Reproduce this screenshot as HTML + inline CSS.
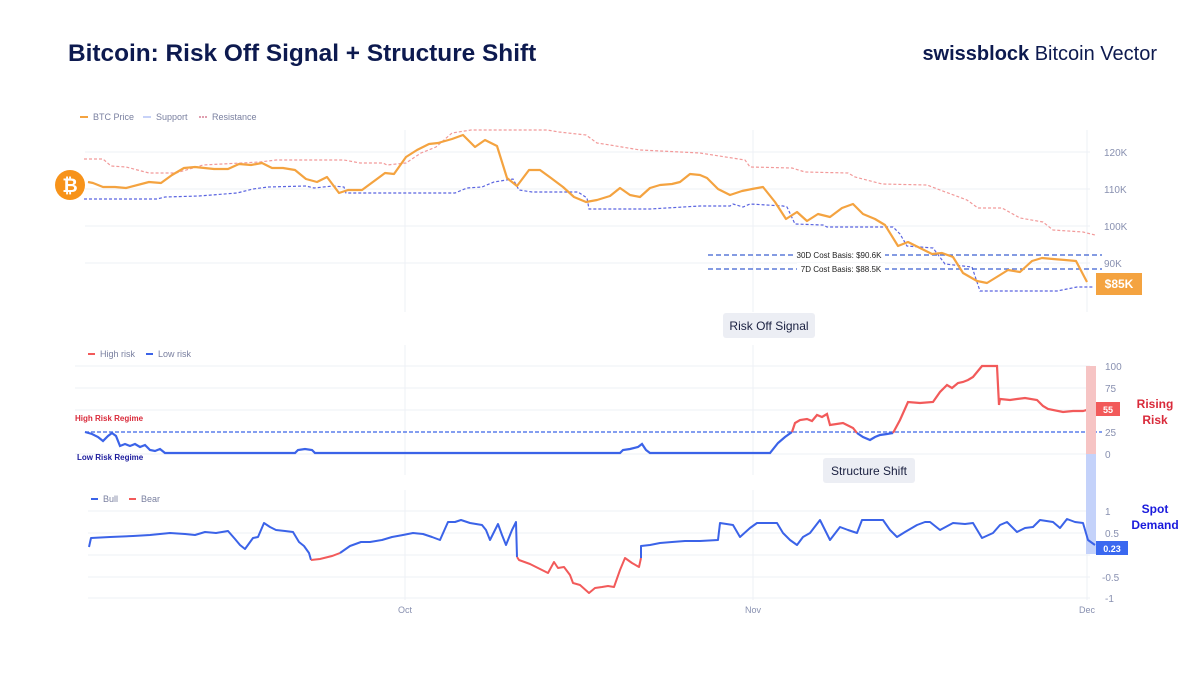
<!DOCTYPE html>
<html><head><meta charset="utf-8"><style>
body{margin:0;background:#fff;}
svg{display:block;font-family:"Liberation Sans",sans-serif;}
</style></head><body>
<svg width="1200" height="675" viewBox="0 0 1200 675" xmlns="http://www.w3.org/2000/svg">
<rect width="1200" height="675" fill="#fff"/>
<text x="68" y="61" font-size="24.4" font-weight="bold" fill="#0d1a4f">Bitcoin: Risk Off Signal + Structure Shift</text>
<text x="1157" y="60" font-size="20" text-anchor="end" fill="#0d1a4f"><tspan font-weight="bold">swissblock</tspan> Bitcoin Vector</text>

<!-- grids -->
<g stroke="#eef0f5" stroke-width="1">
<line x1="85" y1="152" x2="1090" y2="152"/><line x1="85" y1="189" x2="1090" y2="189"/><line x1="85" y1="226" x2="1090" y2="226"/><line x1="85" y1="263" x2="1090" y2="263"/>
<line x1="405" y1="130" x2="405" y2="312"/><line x1="1087" y1="130" x2="1087" y2="312"/><line x1="753" y1="130" x2="753" y2="312"/>
<line x1="75" y1="366" x2="1090" y2="366"/><line x1="75" y1="388" x2="1090" y2="388"/><line x1="75" y1="410" x2="1090" y2="410"/><line x1="75" y1="454" x2="1090" y2="454"/>
<line x1="405" y1="345" x2="405" y2="475"/><line x1="753" y1="345" x2="753" y2="475"/>
<line x1="88" y1="511" x2="1090" y2="511"/><line x1="88" y1="533" x2="1090" y2="533"/><line x1="88" y1="555" x2="1090" y2="555"/><line x1="88" y1="577" x2="1090" y2="577"/><line x1="88" y1="598" x2="1090" y2="598"/>
<line x1="405" y1="490" x2="405" y2="600"/><line x1="753" y1="490" x2="753" y2="600"/><line x1="1087" y1="490" x2="1087" y2="600"/>
</g>

<!-- top legend -->
<g font-size="9" fill="#7a80a0">
<line x1="80" y1="117" x2="88" y2="117" stroke="#f4a340" stroke-width="2"/><text x="93" y="120">BTC Price</text>
<line x1="143" y1="117" x2="151" y2="117" stroke="#8fa4f0" stroke-width="1"/><text x="156" y="120">Support</text>
<line x1="199" y1="117" x2="207" y2="117" stroke="#c04060" stroke-width="1" stroke-dasharray="2,1"/><text x="212" y="120">Resistance</text>
</g>
<circle cx="70" cy="185" r="15" fill="#f7931a"/>
<text x="70" y="192" font-size="19" font-weight="bold" fill="#fff" text-anchor="middle" font-family="DejaVu Sans,sans-serif">₿</text>

<!-- resistance -->
<polyline fill="none" stroke="#f29a9a" stroke-width="1.2" stroke-dasharray="3,2" points="84,159 103,159 111,166 126,167 149,173 176,173 203,165 260,162 276,160 344,160 360,163 383,163 387,165 406,163 421,153 436,147 452,133 471,130 547,130 559,132 586,135 597,143 610,145 640,150 700,153 745,160 750,167 792,168 805,172 848,173 855,177 882,184 927,185 940,190 967,200 978,208 1002,208 1020,218 1043,222 1053,230 1083,232 1095,235"/>
<!-- support -->
<polyline fill="none" stroke="#5a64e0" stroke-width="1.2" stroke-dasharray="3,2" points="84,199 157,199 165,197 199,196 237,193 253,189 268,187 306,186 314,188 333,186 344,187 346,193 455,193 467,188 482,187 494,182 513,179 519,190 532,192 578,192 587,198 589,209 650,209 700,206 730,206 733,204 743,207 750,204 783,206 787,207 795,224 823,225 827,227 893,227 900,234 907,246 933,248 945,264 972,267 980,291 1057,291 1077,287 1093,287"/>
<!-- cost basis -->
<g stroke="#3b5fd0" stroke-width="1.3" stroke-dasharray="5,3">
<line x1="708" y1="255" x2="1102" y2="255"/><line x1="708" y1="269" x2="1102" y2="269"/></g>
<rect x="793" y="249" width="92" height="12" fill="#fff"/><rect x="797" y="263" width="88" height="12" fill="#fff"/>
<text x="839" y="258" font-size="8" fill="#222" text-anchor="middle">30D Cost Basis: $90.6K</text>
<text x="841" y="272" font-size="8" fill="#222" text-anchor="middle">7D Cost Basis: $88.5K</text>
<!-- price -->
<polyline fill="none" stroke="#f4a340" stroke-width="2.2" stroke-linejoin="round" points="88,182 93,183 103,187 115,187 126,188 149,182 161,183 172,175 184,168 195,167 214,169 228,169 239,164 251,165 262,163 272,168 283,168 295,170 306,179 317,182 327,177 339,193 348,190 362,190 385,173 394,174 406,157 417,150 429,144 438,143 452,139 463,135 475,147 485,140 497,146 507,178 517,186 529,170 540,170 551,178 563,187 574,197 586,202 597,200 610,196 620,188 630,195 640,197 650,188 660,185 672,184 680,182 690,174 700,175 707,178 718,189 730,195 742,191 752,189 763,187 775,202 786,219 797,212 807,221 818,214 830,217 842,208 853,204 863,214 875,219 885,225 898,246 908,242 920,248 932,254 942,253 953,257 963,273 977,281 987,283 1000,275 1008,270 1020,272 1032,261 1042,258 1053,259 1065,260 1076,261 1087,282"/>
<g font-size="10" fill="#8890b0"><text x="1104" y="156">120K</text><text x="1104" y="193">110K</text><text x="1104" y="230">100K</text><text x="1104" y="267">90K</text></g>
<rect x="1096" y="273" width="46" height="22" fill="#f4a340"/>
<text x="1119" y="288" font-size="12" font-weight="bold" fill="#fff" text-anchor="middle">$85K</text>

<rect x="723" y="313" width="92" height="25" rx="3" fill="#eceef4"/>
<text x="769" y="330" font-size="12" fill="#1a2040" text-anchor="middle">Risk Off Signal</text>

<!-- middle -->
<g font-size="9" fill="#7a80a0">
<line x1="88" y1="354" x2="95" y2="354" stroke="#f25a5a" stroke-width="2"/><text x="100" y="357">High risk</text>
<line x1="146" y1="354" x2="153" y2="354" stroke="#3b63e8" stroke-width="2"/><text x="158" y="357">Low risk</text>
</g>
<text x="75" y="421" font-size="8" font-weight="bold" fill="#d92a3a">High Risk Regime</text>
<text x="77" y="460" font-size="8" font-weight="bold" fill="#1a1a9c">Low Risk Regime</text>
<line x1="85" y1="432" x2="1102" y2="432" stroke="#3b63e8" stroke-width="1.2" stroke-dasharray="4,2"/>
<polyline fill="none" stroke="#3b63e8" stroke-width="2.2" points="85,432 92,434 98,437 103,441 108,436 112,433 116,436 120,446 125,444 130,446 135,444 140,447 145,445 150,450 155,451 160,449 165,453 170,453 295,453 298,450 305,449 312,450 315,453 620,453 623,450 630,449 638,447 642,444 646,450 650,453 770,453 778,443 785,437 792,432"/>
<polyline fill="none" stroke="#f25a5a" stroke-width="2.2" points="792,432 795,423 800,420 807,419 812,421 817,415 822,417 827,414 830,425 843,423 853,428 857,433"/>
<polyline fill="none" stroke="#3b63e8" stroke-width="2.2" points="857,433 863,437 870,440 875,437 880,435 887,434 893,433"/>
<polyline fill="none" stroke="#f25a5a" stroke-width="2.2" points="893,433 900,420 908,402 920,403 933,402 940,392 947,385 952,388 958,383 963,382 968,380 973,377 982,366 997,366 999,405 1000,399 1010,400 1017,399 1025,398 1037,400 1043,406 1048,409 1063,412 1073,411 1083,411 1090,409 1095,406"/>
<rect x="1086" y="366" width="10" height="88" fill="#f6c4c4"/>
<rect x="1086" y="454" width="10" height="100" fill="#c4d2fa"/>
<g font-size="10" fill="#8890b0"><text x="1105" y="370">100</text><text x="1105" y="392">75</text><text x="1105" y="436">25</text><text x="1105" y="458">0</text></g>
<rect x="1096" y="402" width="24" height="14" fill="#f25a5a"/>
<text x="1108" y="413" font-size="9" font-weight="bold" fill="#fff" text-anchor="middle">55</text>
<text x="1155" y="408" font-size="12" font-weight="bold" fill="#d92a3a" text-anchor="middle">Rising</text>
<text x="1155" y="424" font-size="12" font-weight="bold" fill="#d92a3a" text-anchor="middle">Risk</text>
<text x="1155" y="513" font-size="12" font-weight="bold" fill="#1a1adc" text-anchor="middle">Spot</text>
<text x="1155" y="529" font-size="12" font-weight="bold" fill="#1a1adc" text-anchor="middle">Demand</text>

<rect x="823" y="458" width="92" height="25" rx="3" fill="#eceef4"/>
<text x="869" y="475" font-size="12" fill="#1a2040" text-anchor="middle">Structure Shift</text>

<!-- bottom -->
<g font-size="9" fill="#7a80a0">
<line x1="91" y1="499" x2="98" y2="499" stroke="#3b63e8" stroke-width="2"/><text x="103" y="502">Bull</text>
<line x1="129" y1="499" x2="136" y2="499" stroke="#f25a5a" stroke-width="2"/><text x="141" y="502">Bear</text>
</g>
<polyline fill="none" stroke="#3b63e8" stroke-width="2" stroke-linejoin="round" points="89,547 91,538 110,537 133,536 150,535 170,533 185,534 195,535 205,532 216,533 228,531 235,539 240,545 245,549 253,538 258,537 264,523 270,527 276,530 285,531 293,532 299,542 304,546 309,553 311,560"/>
<polyline fill="none" stroke="#f25a5a" stroke-width="2" points="311,560 320,559 332,556 340,553"/>
<polyline fill="none" stroke="#3b63e8" stroke-width="2" stroke-linejoin="round" points="340,553 350,546 361,542 370,542 382,540 392,537 403,535 413,533 423,534 432,537 440,540 448,522 455,522 461,520 470,523 482,525 486,530 490,540 498,524 502,535 506,545 512,530 516,522 517,557"/>
<polyline fill="none" stroke="#f25a5a" stroke-width="2" stroke-linejoin="round" points="517,557 519,560 530,564 540,569 548,573 554,562 558,568 564,567 570,575 573,583 580,585 589,593 595,588 602,587 608,586 614,587 620,570 625,558 632,563 639,567 641,558"/>
<polyline fill="none" stroke="#3b63e8" stroke-width="2" stroke-linejoin="round" points="641,558 641,546 650,545 660,543 672,542 685,541 700,541 718,540 720,523 733,525 740,537 750,528 757,523 770,523 777,523 783,533 790,540 797,545 803,537 810,533 820,520 825,530 830,540 840,527 848,530 857,533 862,520 883,520 890,530 897,537 905,532 917,525 925,522 930,522 940,530 953,523 965,524 973,523 982,538 993,533 1000,525 1007,522 1017,532 1025,528 1033,527 1040,520 1053,522 1060,528 1067,519 1075,522 1083,523 1088,540 1095,545"/>
<g font-size="10" fill="#8890b0"><text x="1105" y="515">1</text><text x="1105" y="537">0.5</text><text x="1102" y="581">-0.5</text><text x="1105" y="602">-1</text></g>
<rect x="1096" y="541" width="32" height="14" fill="#3a68f0"/>
<text x="1112" y="552" font-size="9" font-weight="bold" fill="#fff" text-anchor="middle">0.23</text>
<g font-size="9" fill="#8890b0" text-anchor="middle"><text x="405" y="613">Oct</text><text x="753" y="613">Nov</text><text x="1087" y="613">Dec</text></g>
</svg>
</body></html>
